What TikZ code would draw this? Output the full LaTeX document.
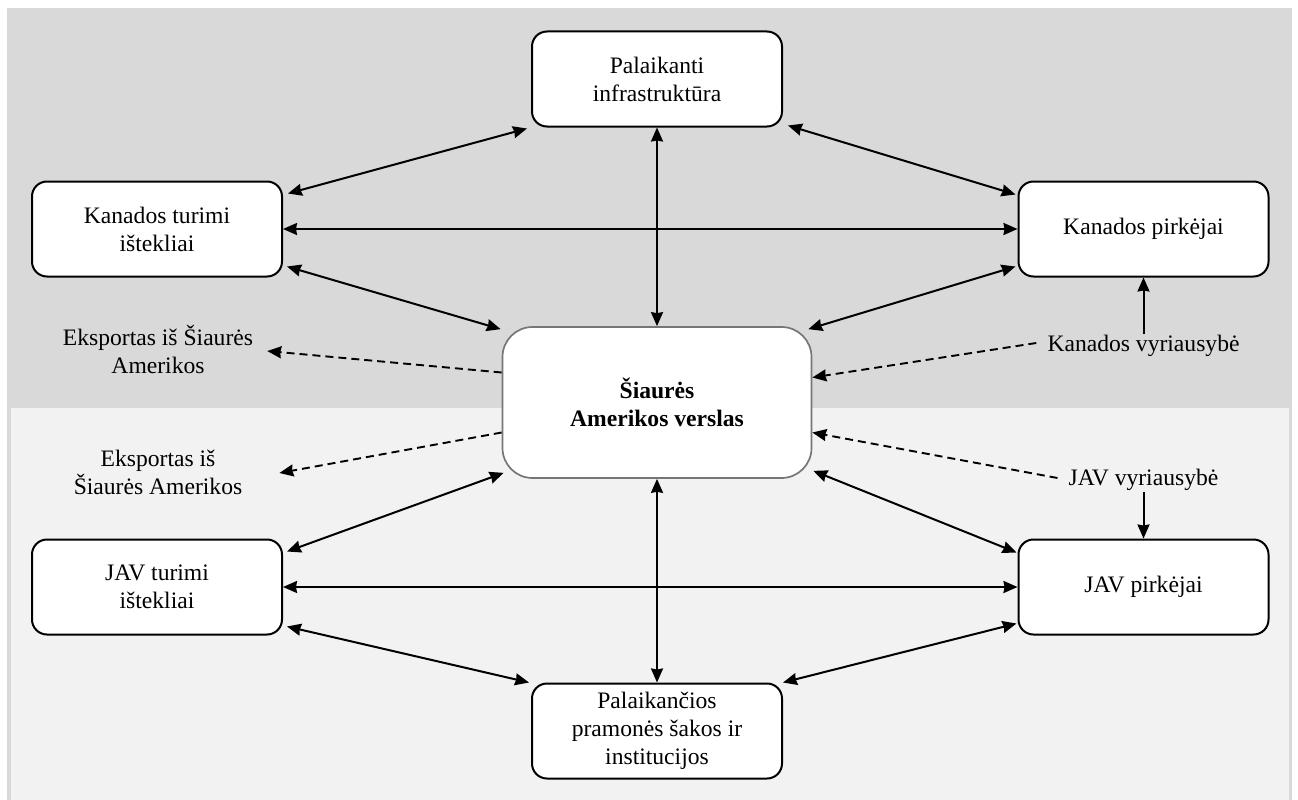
\documentclass[tikz,border=0pt]{standalone}
\usepackage{fontspec}
\setmainfont{Liberation Serif}
\usetikzlibrary{arrows.meta,calc}
\definecolor{panelDark}{HTML}{D9D9D9}
\definecolor{panelLight}{HTML}{F2F2F2}
\definecolor{hubLine}{HTML}{767676}
\begin{document}
\begin{tikzpicture}[x=1pt,y=-1pt,
  >={Stealth[length=14pt,width=12pt,inset=1pt]},
  txt/.style={font=\fontsize{23.6}{28}\selectfont},
  box/.style={txt,draw=black,line width=2pt,fill=white,rounded corners=15pt,
    minimum width=250pt,minimum height=95pt,align=center,inner sep=2pt},
  hub/.style={draw=hubLine,line width=1.7pt,fill=white,rounded corners=30pt,
    minimum width=309pt,minimum height=151pt,align=center,
    font=\fontsize{23.6}{28}\selectfont\bfseries},
  lbl/.style={txt,align=center,inner sep=1pt},
  link/.style={<->,line width=2pt},
  feed/.style={->,line width=2pt},
  dashline/.style={->,line width=1.9pt,dash pattern=on 8pt off 5pt}]

% canvas and the two coloured panels
\fill[white] (0,0) rectangle (1298,800);
\fill[panelDark] (7,8) rectangle (1292,800);
\fill[panelLight] (11,408) rectangle (1289,800);
\useasboundingbox (0,0) rectangle (1298,800);

% boxes
\node[box] (infra) at (657,79) {Palaikanti\\infrastruktūra};
\node[box] (kt) at (157,229) {Kanados turimi\\ištekliai};
\node[box] (kp) at (1143.5,229) {Kanados pirkėjai};
\node[hub] (hub) at (657,402.5) {Šiaurės\\Amerikos verslas};
\node[box] (jt) at (157,587) {JAV turimi\\ištekliai};
\node[box] (jp) at (1143.5,587) {JAV pirkėjai};
\node[box] (pal) at (657,731) {Palaikančios\\pramonės šakos ir\\institucijos};

% free labels
\node[lbl] (exC) at (158,349) {Eksportas iš Šiaurės\\Amerikos};
\node[lbl] (exU) at (158,472) {Eksportas iš\\Šiaurės Amerikos};
\node[lbl] (kv) at (1143.5,346) {Kanados vyriausybė};
\node[lbl] (jv) at (1143.5,480) {JAV vyriausybė};

% two-way links, upper half
\draw[link] ($(kt.north east)+(5,13)$) -- ($(infra.south west)+(-4,1)$);
\draw[link] ($(infra.south east)+(5,-2)$) -- ($(kp.north west)+(-2,14)$);
\draw[link] (infra.south) -- (hub.north);
\draw[link] (kt.east) -- (kp.west);
\draw[link] ($(kt.south east)+(4,-11)$) -- ($(hub.north west)+(-1,3)$);
\draw[link] ($(kp.south west)+(-2,-11)$) -- ($(hub.north east)+(-4,3)$);

% two-way links, lower half
\draw[link] ($(hub.south west)+(2,-6)$) -- ($(jt.north east)+(4,13)$);
\draw[link] ($(hub.south east)+(1,-8)$) -- ($(jp.north west)+(-1,14)$);
\draw[link] (hub.south) -- (pal.north);
\draw[link] (jt.east) -- (jp.west);
\draw[link] ($(jt.south east)+(4,-9)$) -- ($(pal.north west)+(-2,0)$);
\draw[link] ($(jp.south west)+(-1,-12)$) -- ($(pal.north east)+(0,0)$);

% governments to buyers
\draw[feed] (kv.north) -- (kp.south);
\draw[feed] (jv.south) -- (jp.north);

% dashed influences
\draw[dashline] ($(kv.west)+(-10,-3)$) -- ($(hub.east)+(0,-25)$);
\draw[dashline] ($(jv.west)+(-10,-2)$) -- ($(hub.east)+(0,30)$);
\draw[dashline] ($(hub.west)+(0,-30)$) -- ($(exC.east)+(13,2)$);
\draw[dashline] ($(hub.west)+(0,30)$) -- ($(exU.east)+(36,1)$);
\end{tikzpicture}
\end{document}
